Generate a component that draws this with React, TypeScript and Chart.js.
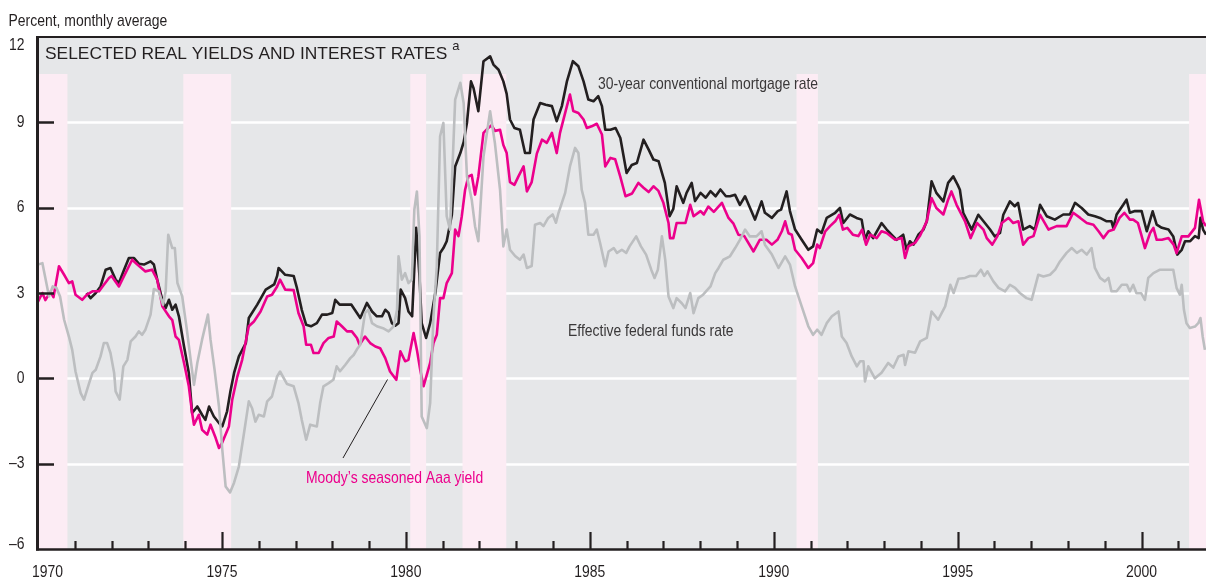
import { useEffect, useRef } from 'react';
import { Chart, registerables } from 'chart.js';

Chart.register(...registerables);

// ---------- DATA ----------
// Moody's seasoned Aaa yield (real), percent
const aaaYears = [
  1970.0, 1970.12, 1970.2, 1970.34, 1970.42, 1970.57, 1970.71, 1970.84, 1970.93, 1971.02,
  1971.2, 1971.33, 1971.48, 1971.66, 1971.79, 1971.93, 1972.0, 1972.2, 1972.34, 1972.56,
  1972.7, 1972.92, 1973.1, 1973.24, 1973.38, 1973.56, 1973.65, 1973.74, 1973.83, 1973.97,
  1974.1, 1974.19, 1974.24, 1974.37, 1974.46, 1974.6, 1974.69, 1974.83, 1974.92, 1975.0,
  1975.19, 1975.28, 1975.42, 1975.55, 1975.73, 1975.87, 1976.05, 1976.23, 1976.36, 1976.5,
  1976.58, 1976.72, 1976.95, 1977.08, 1977.22, 1977.29, 1977.42, 1977.49, 1977.63, 1977.76,
  1977.9, 1978.04, 1978.12, 1978.26, 1978.4, 1978.53, 1978.67, 1978.74, 1978.89, 1979.03,
  1979.17, 1979.3, 1979.44, 1979.57, 1979.74, 1979.85, 1979.98, 1980.07, 1980.21, 1980.3,
  1980.39, 1980.48, 1980.57, 1980.66, 1980.75, 1980.84, 1980.93, 1981.02, 1981.11, 1981.25,
  1981.34, 1981.43, 1981.52, 1981.61, 1981.7, 1981.79, 1981.88, 1981.97, 1982.11, 1982.24,
  1982.33, 1982.42, 1982.56, 1982.65, 1982.74, 1982.83, 1982.95, 1983.06, 1983.2, 1983.29,
  1983.42, 1983.56, 1983.7, 1983.83, 1983.97, 1984.1, 1984.19, 1984.33, 1984.46, 1984.55,
  1984.69, 1984.83, 1984.92, 1985.05, 1985.19, 1985.33, 1985.42, 1985.56, 1985.69, 1985.83,
  1985.97, 1986.15, 1986.32, 1986.46, 1986.6, 1986.73, 1986.86, 1987.0, 1987.14, 1987.18,
  1987.27, 1987.36, 1987.6, 1987.73, 1987.82, 1988.01, 1988.1, 1988.22, 1988.37, 1988.59,
  1988.68, 1988.77, 1988.9, 1989.04, 1989.2, 1989.45, 1989.62, 1989.8, 1989.95, 1990.1,
  1990.22, 1990.31, 1990.4, 1990.49, 1990.58, 1990.76, 1990.94, 1991.07, 1991.18, 1991.25,
  1991.4, 1991.53, 1991.67, 1991.78, 1991.88, 1992.0, 1992.15, 1992.3, 1992.4, 1992.51,
  1992.62, 1992.8, 1992.93, 1993.07, 1993.3, 1993.48, 1993.57, 1993.66, 1993.84, 1993.97,
  1994.16, 1994.29, 1994.42, 1994.61, 1994.74, 1994.83, 1994.97, 1995.06, 1995.2, 1995.35,
  1995.53, 1995.7, 1995.79, 1995.94, 1996.08, 1996.2, 1996.38, 1996.51, 1996.65, 1996.78,
  1996.92, 1997.06, 1997.24, 1997.47, 1997.69, 1997.96, 1998.14, 1998.33, 1998.51, 1998.69,
  1998.83, 1998.96, 1999.1, 1999.24, 1999.4, 1999.53, 1999.68, 1999.77, 1999.9, 1999.99,
  2000.09, 2000.23, 2000.32, 2000.41, 2000.55, 2000.73, 2000.87, 2000.95, 2001.09, 2001.27,
  2001.45, 2001.56, 2001.67, 2001.75,
];
const aaaValues = [
  2.7, 3.0, 2.75, 3.05, 2.85, 3.94, 3.64, 3.35, 3.41, 2.94,
  2.76, 2.94, 3.06, 3.06, 3.29, 3.53, 3.6, 3.23, 3.6, 4.17,
  4.0, 3.76, 3.82, 3.47, 2.53, 2.18, 2.05, 1.47, 1.35, 0.54,
  -0.28, -1.22, -1.63, -1.28, -1.81, -1.98, -1.63, -2.1, -2.45, -2.28,
  -1.69, -0.75, 0.07, 0.65, 1.83, 2.0, 2.35, 2.88, 2.94, 3.23,
  3.47, 3.12, 3.1, 2.3, 1.83, 1.18, 1.18, 0.89, 0.89, 1.24,
  1.42, 1.47, 2.0, 1.83, 1.65, 1.65, 1.42, 1.18, 1.47, 1.24,
  1.12, 1.06, 0.71, 0.24, -0.05, 0.95, 0.6, 0.65, 1.59, 1.0,
  0.3, -0.28, 0.13, 0.54, 1.24, 1.53, 2.82, 2.82, 3.35, 3.7,
  5.23, 5.0, 5.7, 6.63, 7.1, 7.15, 6.46, 7.1, 8.63, 8.8,
  8.9, 8.7, 8.74, 8.2, 7.92, 6.9, 6.8, 7.1, 7.45, 6.57,
  6.9, 7.9, 8.39, 8.28, 8.63, 7.92, 8.63, 9.33, 9.98, 9.4,
  9.33, 9.1, 8.8, 8.86, 8.95, 8.57, 7.45, 7.75, 7.7, 7.08,
  6.4, 6.5, 6.87, 6.7, 6.55, 6.75, 6.6, 6.17, 5.46, 4.93,
  4.93, 5.46, 5.46, 6.1, 5.7, 5.88, 5.76, 6.04, 5.85, 6.17,
  5.9, 5.64, 5.45, 5.05, 5.0, 4.46, 4.87, 4.87, 4.7, 4.87,
  5.17, 5.52, 5.1, 5.05, 4.52, 4.23, 3.88, 4.05, 4.7, 4.58,
  5.17, 5.35, 5.52, 5.75, 5.23, 5.29, 5.05, 5.0, 5.23, 4.7,
  5.05, 4.93, 5.17, 5.11, 4.87, 4.93, 4.23, 4.64, 4.76, 5.0,
  5.52, 6.34, 5.99, 5.76, 6.28, 6.57, 6.1, 5.87, 5.52, 4.93,
  5.46, 5.23, 4.93, 4.7, 5.0, 5.46, 5.64, 5.46, 5.52, 4.7,
  4.93, 5.0, 5.75, 5.23, 5.35, 5.35, 5.82, 5.64, 5.46, 5.4,
  5.17, 4.93, 5.17, 5.23, 5.64, 5.82, 5.58, 5.58, 5.46, 5.05,
  4.58, 5.11, 5.29, 4.87, 4.87, 4.93, 4.7, 4.4, 4.99, 4.99,
  5.29, 6.28, 5.52, 5.35,
];

// 30-year conventional mortgage rate (real), percent
const mortgageYears = [
  1971.32, 1971.43, 1971.57, 1971.7, 1971.84, 1971.97, 1972.11, 1972.2, 1972.34, 1972.47,
  1972.61, 1972.74, 1972.88, 1973.06, 1973.15, 1973.24, 1973.38, 1973.47, 1973.56, 1973.65,
  1973.74, 1973.83, 1973.97, 1974.1, 1974.19, 1974.33, 1974.46, 1974.55, 1974.65, 1974.78,
  1974.92, 1975.01, 1975.14, 1975.23, 1975.33, 1975.46, 1975.65, 1975.73, 1975.96, 1976.19,
  1976.42, 1976.5, 1976.54, 1976.72, 1976.95, 1977.04, 1977.17, 1977.29, 1977.42, 1977.58,
  1977.72, 1977.86, 1978.0, 1978.08, 1978.2, 1978.52, 1978.76, 1978.94, 1979.08, 1979.21,
  1979.35, 1979.44, 1979.53, 1979.62, 1979.71, 1979.8, 1979.86, 1979.98, 1980.07, 1980.17,
  1980.28, 1980.37, 1980.43, 1980.55, 1980.66, 1980.8, 1980.93, 1981.02, 1981.11, 1981.25,
  1981.34, 1981.48, 1981.57, 1981.66, 1981.77, 1981.84, 1981.97, 1982.11, 1982.29, 1982.38,
  1982.52, 1982.65, 1982.74, 1982.83, 1982.95, 1983.1, 1983.24, 1983.37, 1983.47, 1983.65,
  1983.8, 1983.97, 1984.1, 1984.24, 1984.38, 1984.54, 1984.69, 1984.83, 1984.96, 1985.1,
  1985.23, 1985.33, 1985.42, 1985.56, 1985.7, 1985.83, 1986.0, 1986.14, 1986.28, 1986.46,
  1986.6, 1986.73, 1986.87, 1987.04, 1987.17, 1987.27, 1987.36, 1987.54, 1987.63, 1987.77,
  1987.86, 1988.01, 1988.15, 1988.28, 1988.42, 1988.55, 1988.7, 1988.81, 1988.95, 1989.08,
  1989.22, 1989.49, 1989.67, 1989.76, 1989.95, 1990.11, 1990.2, 1990.35, 1990.44, 1990.58,
  1990.76, 1990.94, 1991.07, 1991.18, 1991.3, 1991.44, 1991.67, 1991.8, 1991.89, 1992.07,
  1992.25, 1992.39, 1992.48, 1992.57, 1992.7, 1992.93, 1993.07, 1993.34, 1993.52, 1993.61,
  1993.7, 1993.8, 1993.93, 1994.07, 1994.16, 1994.29, 1994.42, 1994.61, 1994.74, 1994.88,
  1995.0, 1995.06, 1995.15, 1995.38, 1995.56, 1995.74, 1995.88, 1996.01, 1996.15, 1996.24,
  1996.42, 1996.55, 1996.64, 1996.78, 1996.96, 1997.1, 1997.24, 1997.42, 1997.64, 1997.87,
  1998.05, 1998.19, 1998.37, 1998.55, 1998.73, 1998.87, 1999.05, 1999.18, 1999.23, 1999.32,
  1999.5, 1999.59, 1999.68, 1999.82, 2000.0, 2000.14, 2000.3, 2000.41, 2000.55, 2000.73,
  2000.86, 2000.97, 2001.09, 2001.18, 2001.32, 2001.45, 2001.55, 2001.6, 2001.67, 2001.75,
];
const mortgageValues = [
  3.0, 2.82, 3.0, 3.23, 3.82, 3.88, 3.47, 3.35, 3.82, 4.23,
  4.23, 4.03, 4.0, 4.11, 4.0, 3.47, 2.76, 2.47, 2.76, 2.41,
  2.59, 2.18, 1.12, 0.19, -1.22, -0.99, -1.28, -1.46, -0.99, -1.34,
  -1.57, -1.69, -1.16, -0.46, 0.19, 0.77, 1.24, 2.12, 2.59, 3.12,
  3.3, 3.6, 3.88, 3.64, 3.6, 3.17, 2.41, 1.88, 1.83, 1.94,
  2.24, 2.24, 2.3, 2.76, 2.59, 2.59, 2.12, 2.65, 2.35, 2.18,
  2.18, 2.41, 2.3, 1.94, 1.85, 1.94, 3.12, 2.82, 2.35, 2.18,
  5.29, 3.58, 1.94, 1.42, 1.94, 3.0, 4.41, 4.58, 4.82, 5.75,
  7.45, 7.92, 8.3, 8.98, 10.44, 10.2, 9.39, 11.15, 11.32, 11.03,
  10.85, 10.44, 10.0, 9.1, 8.8, 8.74, 7.92, 7.92, 9.1, 9.68,
  9.62, 9.57, 9.04, 9.57, 10.45, 11.15, 10.97, 10.44, 9.8, 9.74,
  9.92, 9.57, 8.74, 8.74, 8.8, 8.45, 7.22, 7.5, 7.57, 8.39,
  8.04, 7.69, 7.63, 6.87, 5.7, 5.96, 6.75, 6.17, 6.52, 6.87,
  6.23, 6.52, 6.35, 6.58, 6.4, 6.64, 6.4, 6.4, 6.45, 6.1,
  6.4, 5.58, 6.22, 5.82, 5.64, 5.88, 5.93, 6.57, 5.88, 5.23,
  4.87, 4.52, 4.64, 5.23, 5.11, 5.64, 5.82, 5.99, 5.46, 5.76,
  5.64, 5.58, 4.87, 5.17, 4.93, 5.46, 5.23, 4.87, 5.05, 4.52,
  4.82, 4.7, 5.05, 5.23, 5.52, 6.93, 6.52, 6.22, 6.87, 7.1,
  6.8, 6.63, 5.82, 5.23, 5.75, 5.46, 5.23, 4.99, 5.11, 5.75,
  6.22, 6.05, 6.17, 5.23, 5.35, 5.23, 6.1, 5.7, 5.58, 5.76,
  5.76, 6.17, 5.99, 5.76, 5.7, 5.64, 5.52, 5.52, 5.29, 5.76,
  6.1, 6.28, 5.82, 5.88, 5.88, 5.17, 5.87, 5.4, 5.29, 5.23,
  4.99, 4.35, 4.52, 4.82, 4.82, 5.0, 4.93, 5.64, 5.23, 5.05,
];

// Effective federal funds rate (real), percent
const fedYears = [
  1970.0, 1970.12, 1970.2, 1970.3, 1970.4, 1970.5, 1970.6, 1970.71, 1970.84, 1970.93,
  1971.02, 1971.16, 1971.25, 1971.39, 1971.48, 1971.57, 1971.7, 1971.79, 1971.88, 1971.97,
  1972.07, 1972.11, 1972.22, 1972.32, 1972.43, 1972.52, 1972.65, 1972.74, 1972.83, 1972.92,
  1973.06, 1973.15, 1973.28, 1973.4, 1973.47, 1973.54, 1973.65, 1973.72, 1973.79, 1973.92,
  1974.04, 1974.15, 1974.24, 1974.33, 1974.46, 1974.62, 1974.69, 1974.8, 1974.92, 1975.01,
  1975.1, 1975.22, 1975.33, 1975.46, 1975.6, 1975.73, 1975.82, 1975.91, 1976.0, 1976.14,
  1976.23, 1976.36, 1976.5, 1976.58, 1976.77, 1976.95, 1977.08, 1977.17, 1977.29, 1977.4,
  1977.58, 1977.67, 1977.76, 1977.9, 1978.03, 1978.12, 1978.21, 1978.35, 1978.49, 1978.58,
  1978.69, 1978.76, 1978.89, 1978.98, 1979.08, 1979.21, 1979.4, 1979.53, 1979.67, 1979.76,
  1979.8, 1979.89, 1979.98, 1980.07, 1980.16, 1980.23, 1980.3, 1980.37, 1980.43, 1980.57,
  1980.66, 1980.75, 1980.84, 1980.93, 1981.02, 1981.11, 1981.2, 1981.34, 1981.48, 1981.57,
  1981.66, 1981.79, 1981.88, 1981.97, 1982.11, 1982.29, 1982.42, 1982.56, 1982.65, 1982.74,
  1982.83, 1982.97, 1983.1, 1983.2, 1983.29, 1983.42, 1983.51, 1983.65, 1983.74, 1983.87,
  1983.99, 1984.08, 1984.15, 1984.33, 1984.46, 1984.6, 1984.69, 1984.78, 1984.87, 1984.96,
  1985.1, 1985.19, 1985.28, 1985.42, 1985.51, 1985.65, 1985.74, 1985.87, 1985.99, 1986.08,
  1986.26, 1986.39, 1986.53, 1986.67, 1986.76, 1986.85, 1986.96, 1987.05, 1987.14, 1987.27,
  1987.36, 1987.5, 1987.6, 1987.73, 1987.82, 1987.95, 1988.08, 1988.28, 1988.41, 1988.5,
  1988.63, 1988.81, 1988.95, 1989.08, 1989.22, 1989.35, 1989.53, 1989.67, 1989.76, 1989.95,
  1990.13, 1990.31, 1990.44, 1990.58, 1990.76, 1990.94, 1991.07, 1991.18, 1991.3, 1991.44,
  1991.58, 1991.76, 1991.85, 1991.98, 1992.12, 1992.26, 1992.35, 1992.44, 1992.48, 1992.57,
  1992.75, 1992.93, 1993.11, 1993.25, 1993.39, 1993.53, 1993.57, 1993.66, 1993.84, 1993.98,
  1994.16, 1994.29, 1994.47, 1994.66, 1994.8, 1994.89, 1995.02, 1995.2, 1995.33, 1995.5,
  1995.63, 1995.72, 1995.81, 1995.97, 1996.11, 1996.29, 1996.42, 1996.56, 1996.69, 1996.87,
  1997.01, 1997.19, 1997.33, 1997.51, 1997.65, 1997.78, 1997.96, 1998.1, 1998.24, 1998.37,
  1998.51, 1998.64, 1998.73, 1998.87, 1999.0, 1999.1, 1999.18, 1999.32, 1999.46, 1999.6,
  1999.68, 1999.77, 1999.86, 1999.99, 2000.09, 2000.18, 2000.32, 2000.5, 2000.64, 2000.86,
  2000.95, 2001.04, 2001.09, 2001.15, 2001.22, 2001.31, 2001.45, 2001.54, 2001.6, 2001.66,
  2001.72,
];
const fedValues = [
  4.0, 4.05, 3.53, 2.88, 3.23, 3.18, 2.88, 2.06, 1.47, 1.0,
  0.24, -0.52, -0.75, -0.17, 0.19, 0.3, 0.77, 1.24, 1.24, 0.89,
  0.19, -0.46, -0.75, 0.42, 0.65, 1.3, 1.47, 1.65, 1.53, 1.71,
  2.24, 3.14, 3.06, 2.59, 3.06, 5.05, 4.58, 4.58, 3.35, 2.88,
  1.77, 0.65, -0.23, 0.54, 1.36, 2.24, 1.36, 0.3, -0.99, -2.51,
  -3.8, -4.01, -3.67, -3.1, -1.92, -0.81, -1.05, -1.52, -1.28, -1.34,
  -0.81, -0.64, 0.07, 0.24, -0.2, -0.28, -0.87, -1.46, -2.16, -1.63,
  -1.69, -0.87, -0.28, -0.17, -0.05, 0.42, 0.25, 0.47, 0.71, 0.82,
  1.06, 1.18, 2.3, 2.41, 1.94, 1.83, 1.75, 1.65, 1.83, 2.41,
  4.29, 3.47, 3.7, 3.35, 3.47, 5.93, 6.57, 4.99, -1.34, -1.75,
  -0.87, 2.18, 3.94, 8.51, 8.98, 5.7, 5.23, 9.8, 10.39, 9.68,
  7.1, 6.28, 5.35, 4.82, 7.8, 9.39, 8.27, 6.63, 4.64, 5.23,
  4.52, 4.3, 4.17, 4.35, 3.88, 3.95, 5.4, 5.46, 5.35, 5.64,
  5.76, 5.47, 5.82, 6.52, 7.45, 8.1, 7.92, 6.63, 6.17, 5.05,
  5.05, 5.23, 4.76, 3.94, 4.46, 4.58, 4.41, 4.52, 4.41, 4.64,
  4.99, 4.64, 4.35, 3.82, 3.53, 3.82, 4.99, 4.17, 2.88, 2.47,
  2.82, 2.64, 2.47, 3.0, 2.29, 2.82, 2.94, 3.23, 3.7, 3.88,
  4.17, 4.29, 4.58, 4.87, 5.23, 4.99, 4.99, 5.17, 4.7, 4.35,
  3.88, 4.29, 4.0, 3.23, 2.53, 1.83, 1.53, 1.71, 1.53, 1.94,
  2.18, 2.35, 1.47, 1.24, 0.77, 0.42, 0.6, 0.6, -0.11, 0.42,
  0.0, 0.2, 0.54, 0.38, 0.77, 0.83, 0.47, 0.95, 0.9, 1.3,
  1.42, 2.35, 2.06, 2.53, 3.29, 3.0, 3.5, 3.53, 3.6, 3.6,
  3.82, 3.6, 3.76, 3.41, 3.18, 3.06, 3.29, 3.18, 3.0, 2.82,
  2.76, 3.64, 3.58, 3.64, 3.82, 4.11, 4.41, 4.58, 4.41, 4.52,
  4.35, 4.58, 3.88, 3.53, 3.41, 3.53, 3.06, 3.06, 3.29, 3.29,
  3.06, 3.29, 2.99, 2.99, 2.76, 3.53, 3.7, 3.82, 3.82, 3.82,
  3.18, 2.94, 3.29, 2.41, 1.94, 1.77, 1.82, 1.94, 2.12, 1.47,
  1.0,
];

// Recession shading (start / end, decimal years)
const recessionStarts = [1970.0, 1973.95, 1980.12, 1981.54, 1990.62, 2001.29];
const recessionEnds = [1970.8, 1975.25, 1980.55, 1982.73, 1991.2, 2001.75];

// Axis ticks
const yTickValues = [12, 9, 6, 3, 0, -3, -6];
const yTickLabels = ['12', '9', '6', '3', '0', '\u20133', '\u20136'];
const xLabelYears = [1970, 1975, 1980, 1985, 1990, 1995, 2000];
const xLabels = ['1970', '1975', '1980', '1985', '1990', '1995', '2000'];

// ---------- STYLE ----------
const INK = '#231f20';
const BG = '#e6e7e9';
const BAND = '#fcecf4';
const MAGENTA = '#ec008c';
const GRAY = '#bcbec0';
const SANS = '"Liberation Sans", Arial, Helvetica, sans-serif';
const NARROW_SCALE = 0.82;
const BAND_TOP = 10.7;

const toPoints = (xs: number[], ys: number[]) => xs.map((x, i) => ({ x, y: ys[i] }));

function drawText(
  ctx: CanvasRenderingContext2D,
  text: string,
  x: number,
  y: number,
  align: CanvasTextAlign,
  sx: number,
) {
  ctx.save();
  ctx.translate(x, y);
  ctx.scale(sx, 1);
  ctx.textAlign = align;
  ctx.fillText(text, 0, 0);
  ctx.restore();
}

const framePlugin = {
  id: 'frame',
  beforeDatasetsDraw(chart: any) {
    const { ctx, chartArea: a, scales } = chart;
    const xs = scales.x;
    const ys = scales.y;
    ctx.save();
    ctx.fillStyle = BG;
    ctx.fillRect(a.left, a.top, a.right - a.left, a.bottom - a.top);
    ctx.strokeStyle = '#ffffff';
    ctx.lineWidth = 2.5;
    yTickValues.forEach((v) => {
      if (v === 12 || v === -6) return;
      const py = Math.round(ys.getPixelForValue(v)) + 0.5;
      ctx.beginPath();
      ctx.moveTo(a.left, py);
      ctx.lineTo(a.right, py);
      ctx.stroke();
    });
    ctx.fillStyle = BAND;
    const yt = ys.getPixelForValue(BAND_TOP);
    recessionStarts.forEach((s, i) => {
      const x0 = xs.getPixelForValue(s);
      const x1 = xs.getPixelForValue(recessionEnds[i]);
      ctx.fillRect(x0, yt, x1 - x0, a.bottom - yt);
    });
    ctx.restore();
  },
  afterDatasetsDraw(chart: any) {
    const { ctx, chartArea: a, scales } = chart;
    const xs = scales.x;
    const ys = scales.y;
    ctx.save();
    ctx.strokeStyle = INK;
    ctx.lineCap = 'butt';
    // frame: top, left, bottom
    ctx.lineWidth = 2;
    ctx.beginPath();
    ctx.moveTo(a.left - 1.5, a.top);
    ctx.lineTo(a.right, a.top);
    ctx.stroke();
    ctx.lineWidth = 3;
    ctx.beginPath();
    ctx.moveTo(a.left - 0.5, a.top - 1);
    ctx.lineTo(a.left - 0.5, a.bottom + 1.5);
    ctx.stroke();
    ctx.lineWidth = 2.5;
    ctx.beginPath();
    ctx.moveTo(a.left - 2, a.bottom + 0.5);
    ctx.lineTo(a.right, a.bottom + 0.5);
    ctx.stroke();
    // x ticks (inside, upward)
    ctx.lineWidth = 2.2;
    for (let yr = 1971; yr <= 2001; yr++) {
      const px = Math.round(xs.getPixelForValue(yr)) + 0.5;
      const len = yr % 5 === 0 ? 17 : 8;
      ctx.beginPath();
      ctx.moveTo(px, a.bottom);
      ctx.lineTo(px, a.bottom - len);
      ctx.stroke();
    }
    // y ticks (inside, rightward)
    ctx.lineWidth = 2.5;
    yTickValues.forEach((v) => {
      if (v === 12 || v === -6) return;
      const py = Math.round(ys.getPixelForValue(v)) + 0.5;
      ctx.beginPath();
      ctx.moveTo(a.left, py);
      ctx.lineTo(a.left + 16, py);
      ctx.stroke();
    });
    // y labels
    ctx.fillStyle = INK;
    ctx.font = `17px ${SANS}`;
    ctx.textBaseline = 'middle';
    yTickValues.forEach((v, i) => {
      let py = ys.getPixelForValue(v);
      py = Math.max(a.top + 8, Math.min(a.bottom - 5, py));
      drawText(ctx, yTickLabels[i], 24.5, py, 'right', NARROW_SCALE);
    });
    // x labels
    ctx.textBaseline = 'alphabetic';
    xLabelYears.forEach((yr, i) => {
      const px = xs.getPixelForValue(yr);
      if (i === 0) {
        drawText(ctx, xLabels[i], px - 6, 577, 'left', NARROW_SCALE);
      } else {
        drawText(ctx, xLabels[i], px, 577, 'center', NARROW_SCALE);
      }
    });
    // unit label
    drawText(ctx, 'Percent, monthly average', 8.5, 26, 'left', NARROW_SCALE);
    // title
    const title = 'SELECTED REAL YIELDS AND INTEREST RATES';
    ctx.font = `17px ${SANS}`;
    const tw = ctx.measureText(title).width * 1.022;
    drawText(ctx, title, 45, 58.5, 'left', 1.022);
    ctx.font = `13px ${SANS}`;
    drawText(ctx, 'a', 45 + tw + 5, 50, 'left', 1);
    // annotations
    ctx.font = `17px ${SANS}`;
    ctx.fillStyle = '#3a3839';
    drawText(ctx, '30-year conventional mortgage rate', 598, 88.5, 'left', NARROW_SCALE);
    drawText(ctx, 'Effective federal funds rate', 568, 335.5, 'left', NARROW_SCALE);
    ctx.fillStyle = MAGENTA;
    drawText(ctx, 'Moody\u2019s seasoned Aaa yield', 306, 482.5, 'left', NARROW_SCALE);
    // leader line
    ctx.strokeStyle = INK;
    ctx.lineWidth = 1;
    ctx.beginPath();
    ctx.moveTo(343, 458);
    ctx.lineTo(387.5, 379.5);
    ctx.stroke();
    ctx.restore();
  },
};

export default function App() {
  const ref = useRef<HTMLCanvasElement>(null);
  useEffect(() => {
    document.body.style.margin = '0';
    const canvas = ref.current;
    if (!canvas) return;
    const chart = new Chart(canvas, {
      type: 'line',
      data: {
        datasets: [
          {
            label: 'Effective federal funds rate',
            data: toPoints(fedYears, fedValues),
            borderColor: GRAY,
            borderWidth: 2.6,
          },
          {
            label: "Moody's seasoned Aaa yield",
            data: toPoints(aaaYears, aaaValues),
            borderColor: MAGENTA,
            borderWidth: 2.6,
          },
          {
            label: '30-year conventional mortgage rate',
            data: toPoints(mortgageYears, mortgageValues),
            borderColor: INK,
            borderWidth: 2.6,
          },
        ],
      },
      options: {
        animation: false,
        responsive: true,
        maintainAspectRatio: false,
        events: [],
        layout: { padding: { left: 38, right: 0, top: 37, bottom: 31 } },
        elements: {
          point: { radius: 0 },
          line: { tension: 0, borderJoinStyle: 'round', fill: false },
        },
        scales: {
          x: { type: 'linear', min: 1970, max: 2001.75, display: false },
          y: { type: 'linear', min: -6, max: 12, display: false },
        },
        plugins: {
          legend: { display: false },
          tooltip: { enabled: false },
          title: { display: false },
        },
      },
      plugins: [framePlugin],
    });
    return () => chart.destroy();
  }, []);
  return (
    <div style={{ position: 'relative', width: 1206, height: 580 }}>
      <canvas ref={ref} />
    </div>
  );
}
